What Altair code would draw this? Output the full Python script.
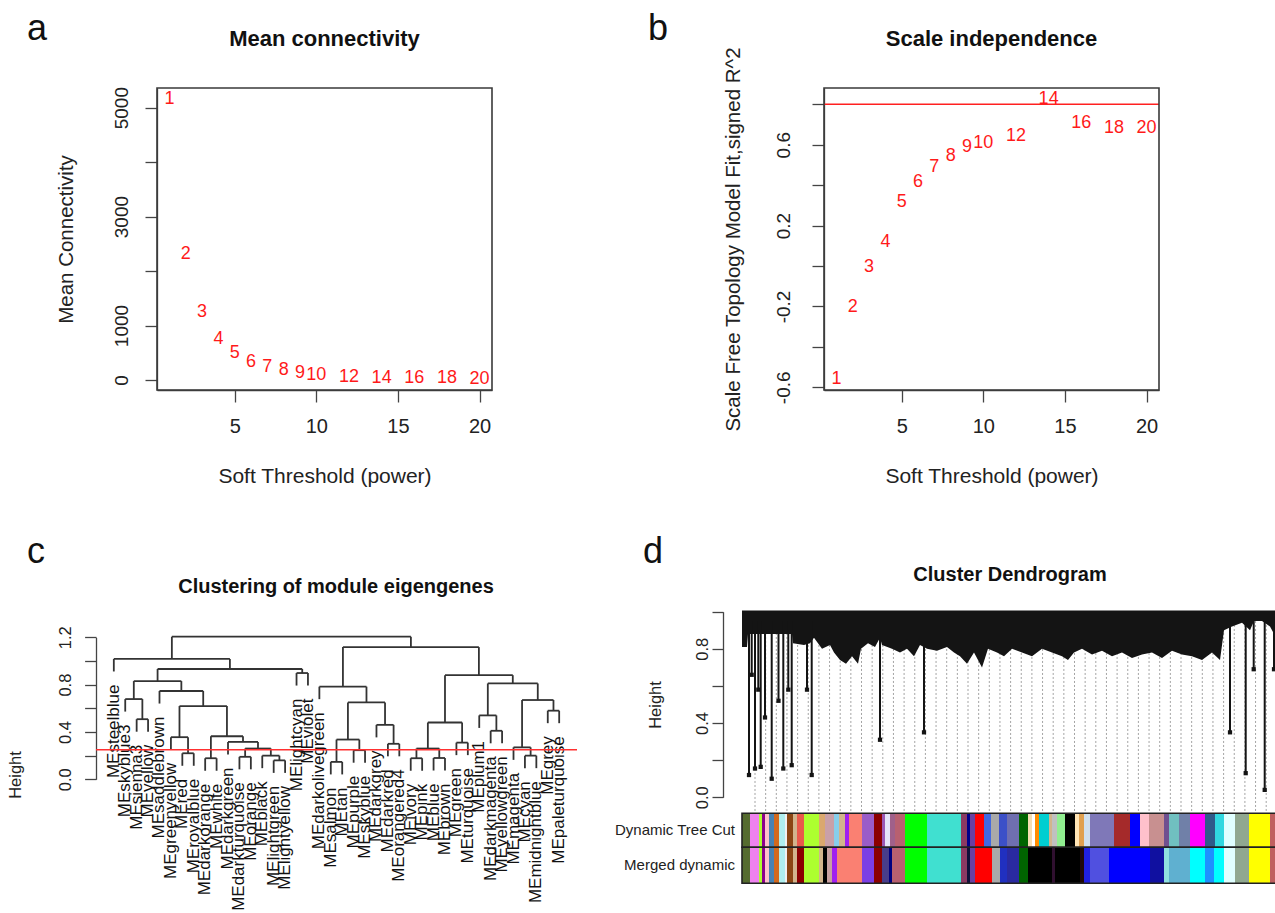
import altair as alt
import pandas as pd

W, H = 1275, 913
FONT = "Liberation Sans"

# ---------------- data: panels a / b ----------------
powers = [1, 2, 3, 4, 5, 6, 7, 8, 9, 10, 12, 14, 16, 18, 20]
mean_connectivity = [5156, 2313, 1254, 753, 502, 337, 245, 184, 135, 92, 61, 43, 35, 28, 22]
scale_free_r2 = [-0.558, -0.204, -0.003, 0.117, 0.318, 0.414, 0.488, 0.546, 0.590,
                 0.607, 0.645, 0.825, 0.706, 0.684, 0.681]
r2_cutoff = 0.8

# ---------------- data: panel c (module eigengene tree) ----------------
me_labels = ["steelblue", "skyblue3", "sienna3", "yellow", "saddlebrown", "greenyellow", "red",
             "royalblue", "darkorange", "white", "darkgreen", "darkturquoise", "orange", "black",
             "lightgreen", "lightyellow", "lightcyan", "violet", "darkolivegreen", "salmon", "tan",
             "purple", "skyblue", "darkgrey", "darkred", "orangered4", "ivory", "pink", "blue",
             "brown", "green", "turquoise", "plum1", "darkmagenta", "yellowgreen", "magenta",
             "cyan", "midnightblue", "grey", "paleturquoise"]
# R-style merge list: negative = leaf (1-based, in plotting order), positive = earlier merge
me_merges = [(-7, -8, 0.22), (-6, 1, 0.356), (-9, -10, 0.178), (-12, -13, 0.19),
             (-15, -16, 0.16), (-14, 5, 0.20), (4, 6, 0.26), (-11, 7, 0.316), (3, 8, 0.364),
             (2, 9, 0.619), (-5, 10, 0.746), (-3, -4, 0.508), (-2, 12, 0.678), (13, 11, 0.83),
             (-17, -18, 0.898), (14, 15, 0.932), (-1, 16, 1.017),
             (-20, -21, 0.147), (-22, -23, 0.246), (18, 19, 0.336), (-25, -26, 0.30),
             (-24, 21, 0.46), (20, 22, 0.65), (-19, 23, 0.783), (-27, -28, 0.178),
             (-29, -30, 0.18), (25, 26, 0.26), (-31, -32, 0.31), (27, 28, 0.48),
             (-34, -35, 0.41), (-33, 30, 0.54), (-37, -38, 0.20), (-36, 32, 0.27),
             (-39, -40, 0.58), (33, 34, 0.67), (31, 35, 0.81), (29, 36, 0.88), (24, 37, 1.117),
             (17, 38, 1.205)]
me_cut_height = 0.25

# ---------------- data: panel d (gene dendrogram + colour rows) ----------------
profile_x = [0, 5, 6, 44, 46, 50, 51, 62, 68, 72, 80, 88, 92, 98, 104, 110, 116, 119, 126, 133,
             138, 140, 150, 158, 165, 172, 178, 185, 195, 205, 212, 218, 225, 232, 240, 246, 255,
             262, 270, 280, 290, 300, 310, 320, 326, 332, 340, 350, 360, 370, 380, 390, 400, 410,
             420, 430, 440, 450, 460, 470, 478, 482, 490, 500, 508, 512, 520, 528, 535]
profile_h = [0.81, 0.81, 0.88, 0.88, 0.88, 0.88, 0.83, 0.82, 0.83, 0.86, 0.80, 0.82, 0.78, 0.74,
             0.72, 0.76, 0.72, 0.80, 0.83, 0.81, 0.86, 0.82, 0.80, 0.78, 0.80, 0.76, 0.82, 0.80,
             0.79, 0.81, 0.78, 0.76, 0.72, 0.78, 0.70, 0.80, 0.78, 0.76, 0.80, 0.78, 0.76, 0.80,
             0.78, 0.76, 0.74, 0.78, 0.80, 0.77, 0.79, 0.76, 0.78, 0.75, 0.77, 0.78, 0.75, 0.79,
             0.77, 0.76, 0.74, 0.78, 0.74, 0.90, 0.92, 0.94, 0.90, 0.95, 0.95, 0.92, 0.85]
strand_x = [7, 9.7, 13, 16.3, 18.7, 23, 29.7, 36.5, 41.3, 46.3, 49.7, 65, 69.7, 138, 182,
            488, 503.7, 511.7, 522.7, 532]
strand_bottom = [0.12, 0.66, 0.155, 0.58, 0.164, 0.43, 0.10, 0.52, 0.155, 0.58, 0.173, 0.58,
                 0.12, 0.31, 0.35, 0.35, 0.13, 0.69, 0.04, 0.69]
guide_first, guide_step, guide_count = 13, 10.65, 50

dynamic_cut_breaks = [0, 8, 17, 20, 23, 27, 32, 37, 43, 45, 51, 55, 62, 77, 83, 92, 97, 103, 107,
                      120, 132, 140, 143, 148, 153, 163, 185, 219, 225, 228, 233, 242, 249, 257,
                      265, 277, 286, 290, 293, 297, 307, 310, 315, 323, 333, 337, 342, 348, 372,
                      388, 398, 407, 422, 427, 437, 448, 463, 473, 482, 493, 507, 528, 535]
dynamic_cut_colors = ["#556B2F", "#EE82EE", "#ADFF2F", "#8B008B", "#FFC0CB", "#4682B4", "#D2691E",
                      "#AFEEEE", "#F0F0F0", "#8B4513", "#D2B48C", "#E9594B", "#ADFF2F", "#DAA86E",
                      "#C9A0A8", "#87CEEB", "#D2B48C", "#A020F0", "#FA8072", "#9A5CC8", "#8B0000",
                      "#9B59B6", "#E6E6FA", "#A0608A", "#B86070", "#00FF00", "#40E0D0", "#8B3A62",
                      "#00008B", "#6A3FA0", "#FF0000", "#4169E1", "#A9A9A9", "#3C50C8", "#6F6FB0",
                      "#006400", "#F5DEB3", "#FFFFFF", "#FF8C00", "#00CED1", "#D2B48C", "#C0C0C0",
                      "#90EE90", "#000000", "#FFE4B5", "#E0A050", "#D0E0F0", "#7F78B8", "#A52A2A",
                      "#0000FF", "#FFC0CB", "#C89090", "#705090", "#70C0C0", "#7080A8", "#FF00FF",
                      "#2F5A8A", "#30D8E0", "#E0FFFF", "#90A890", "#FFFF00", "#C06060"]
merged_breaks = [0, 8, 17, 20, 23, 27, 32, 37, 43, 45, 51, 55, 62, 77, 81, 85, 90, 95, 120, 132,
                 140, 147, 150, 163, 185, 219, 225, 228, 233, 250, 258, 265, 277, 286, 310, 313,
                 338, 342, 348, 367, 408, 422, 427, 448, 463, 472, 482, 493, 507, 528, 535]
merged_colors = ["#556B2F", "#EE82EE", "#ADFF2F", "#8B008B", "#FFC0CB", "#4682B4", "#D2691E",
                 "#AFEEEE", "#F0F0F0", "#8B4513", "#D2B48C", "#8B0000", "#ADFF2F", "#D2B48C",
                 "#000000", "#C8A0A0", "#A020F0", "#FA8072", "#7B3FE4", "#8B0000", "#483D8B",
                 "#000080", "#B86070", "#00FF00", "#40E0D0", "#8B3A62", "#10103A", "#6A3FA0",
                 "#FF0000", "#A9A9A9", "#2030C0", "#2A2AA0", "#006400", "#000000", "#301030",
                 "#000000", "#200808", "#2020E0", "#5050E0", "#0000FF", "#1010A0", "#90E0E0",
                 "#5FB0D0", "#00FFFF", "#1E90FF", "#00FFFF", "#E0FFFF", "#90A890", "#FFFF00",
                 "#C06060"]
row_labels = ["Dynamic Tree Cut", "Merged dynamic"]


# ---------------- helpers ----------------
def ext(v):
    lo, hi = min(v), max(v)
    p = 0.04 * (hi - lo)
    return [lo - p, hi + p]


def axis(values, orient, offset, title, **kw):
    d = dict(values=values, orient=orient, offset=offset, title=title, grid=False, ticks=True,
             labelFont=FONT, titleFont=FONT, labelColor="#222222", titleColor="#222222",
             tickColor="#444444", domainColor="#444444", tickWidth=1.3, domainWidth=1.3,
             labelFlush=False, labelOverlap=False, titleFontWeight="normal",
             titleAlign="center", titleBaseline="alphabetic")
    d.update(kw)
    return alt.Axis(**d)


def soft_threshold_panel(values, left, right, ylab, yticks, ylabel_expr, yfmt, lpad, cutoff=None):
    xd, yd = ext(powers), ext(values)
    sx = alt.Scale(domain=xd, range=[left, right], nice=False, zero=False)
    sy = alt.Scale(domain=yd, range=[390, 88], nice=False, zero=False)
    ax_x = axis([5, 10, 15, 20], "bottom", 390 - H, "Soft Threshold (power)", domain=True,
                tickSize=12, labelPadding=14, labelFontSize=20, titleFontSize=21, labelAngle=0,
                labelAlign="center", labelBaseline="top", titleX=(left + right) / 2,
                titleY=92, titleAngle=0)
    ax_y = axis(yticks, "left", -left, ylab, domain=True, tickSize=12, labelPadding=lpad,
                labelFontSize=19, titleFontSize=20.5, labelAngle=270, labelAlign="center",
                labelBaseline="alphabetic", format=yfmt, labelExpr=ylabel_expr,
                titleX=-85, titleY=239, titleAngle=270)
    df = pd.DataFrame({"x": powers, "y": values, "lab": [str(p) for p in powers]})
    box = pd.DataFrame({"x": [xd[0]], "x2": [xd[1]], "y": [yd[0]], "y2": [yd[1]]})
    layers = []
    if cutoff is not None:
        cut = pd.DataFrame({"x": [xd[0]], "x2": [xd[1]], "y": [cutoff]})
        layers.append(alt.Chart(cut).mark_rule(color="#FF2020", strokeWidth=1.3).encode(
            x=alt.X("x:Q", scale=sx, axis=ax_x), x2="x2:Q",
            y=alt.Y("y:Q", scale=sy, axis=ax_y)))
    layers.append(alt.Chart(box).mark_rect(fillOpacity=0, stroke="#3a3a3a", strokeWidth=1.6).encode(
        x=alt.X("x:Q", scale=sx, axis=ax_x), x2="x2:Q",
        y=alt.Y("y:Q", scale=sy, axis=ax_y), y2="y2:Q"))
    layers.append(alt.Chart(df).mark_text(color="#FF1A1A", fontSize=18, font=FONT,
                                          align="center", baseline="middle").encode(
        x=alt.X("x:Q", scale=sx, axis=ax_x), y=alt.Y("y:Q", scale=sy, axis=ax_y), text="lab:N"))
    return alt.layer(*layers)


# ---------------- panel a ----------------
panel_a = soft_threshold_panel(
    mean_connectivity, 157, 492, "Mean Connectivity", [0, 1000, 2000, 3000, 4000, 5000],
    "(datum.value == 2000 || datum.value == 4000) ? '' : datum.label", "d", 18)

# ---------------- panel b ----------------
panel_b = soft_threshold_panel(
    scale_free_r2, 824, 1159, "Scale Free Topology Model Fit,signed R^2",
    [-0.6, -0.4, -0.2, 0, 0.2, 0.4, 0.6, 0.8],
    "(abs(round(datum.value*10)) % 4 == 2) ? ((datum.value < 0 ? '-' : '') + format(abs(datum.value), '.1f')) : ''",
    ".1f", 23, cutoff=r2_cutoff)

# ---------------- panel c ----------------
heights = [m[2] for m in me_merges]
hang = 0.1 * (max(heights) - min(heights))
node_x, node_h, leaf_bottom, segs = {}, {}, {}, []
for k, (a, b, h) in enumerate(me_merges, start=1):
    xs = []
    for c in (a, b):
        if c < 0:
            i = -c - 1
            cx, ch = float(i), h - hang
            leaf_bottom[i] = ch
        else:
            cx, ch = node_x[c], node_h[c]
        segs.append({"x": cx, "x2": cx, "y": ch, "y2": h})
        xs.append(cx)
    segs.append({"x": xs[0], "x2": xs[1], "y": h, "y2": h})
    node_x[k], node_h[k] = (xs[0] + xs[1]) / 2, h
seg_df = pd.DataFrame(segs)
n = len(me_labels)
xd_c = [-0.04 * (n - 1), (n - 1) * 1.04]
lab_df = pd.DataFrame({"x": list(range(n)),
                       "y": [leaf_bottom[i] - 0.11 for i in range(n)],
                       "lab": ["ME" + s for s in me_labels]})
sx_c = alt.Scale(domain=xd_c, range=[96, 577], nice=False, zero=False)
sy_c = alt.Scale(domain=[0, 1.2], range=[779.3, 637.3], nice=False, zero=False)
ax_yc = axis([0, 0.2, 0.4, 0.6, 0.8, 1.0, 1.2], "left", -96, "Height", domain=True,
             tickSize=11.4, labelPadding=14.6, labelFontSize=16.5, titleFontSize=16.5,
             labelAngle=270, labelAlign="center", labelBaseline="alphabetic",
             labelExpr="(round(datum.value*10) % 4 == 0) ? format(datum.value, '.1f') : ''",
             titleX=-76, titleY=774.5, titleAngle=270)
cut_c = pd.DataFrame({"x": [xd_c[0]], "x2": [xd_c[1]], "y": [me_cut_height]})
panel_c = alt.layer(
    alt.Chart(seg_df).mark_rule(color="#333333", strokeWidth=1.8).encode(
        x=alt.X("x:Q", scale=sx_c, axis=None), x2="x2:Q",
        y=alt.Y("y:Q", scale=sy_c, axis=ax_yc), y2="y2:Q"),
    alt.Chart(lab_df).mark_text(font=FONT, fontSize=17, angle=270, align="right",
                                baseline="middle", color="#111111").encode(
        x=alt.X("x:Q", scale=sx_c, axis=None), y=alt.Y("y:Q", scale=sy_c, axis=ax_yc),
        text="lab:N"),
    alt.Chart(cut_c).mark_rule(color="#FF3030", strokeWidth=1.5).encode(
        x=alt.X("x:Q", scale=sx_c, axis=None), x2="x2:Q",
        y=alt.Y("y:Q", scale=sy_c, axis=ax_yc)),
)

# ---------------- panel d ----------------
row_top = [-16 / 185.6, -50 / 185.6]
row_bot = [-50 / 185.6, -86 / 185.6]
sx_d = alt.Scale(domain=[0, 535], range=[742, 1277], nice=False, zero=False)
sy_d = alt.Scale(domain=[0, 1], range=[797.3, 611.7], nice=False, zero=False)
ax_yd = axis([0, 0.2, 0.4, 0.6, 0.8, 1.0], "left", -723, "Height", domain=True,
             tickSize=11, labelPadding=5, labelFontSize=16.5, titleFontSize=16.5,
             labelAngle=270, labelAlign="center", labelBaseline="alphabetic",
             labelExpr="(round(datum.value*10) % 4 == 0) ? format(datum.value, '.1f') : ''",
             titleX=-63, titleY=704.5, titleAngle=270)

guide_df = pd.DataFrame({"x": [round(guide_first + guide_step * k, 2) for k in range(guide_count)],
                         "y": 0.95, "y2": row_top[0]})
mass_df = pd.DataFrame({"x": profile_x, "y": profile_h, "y2": 1.0})
strand_df = pd.DataFrame({"x": strand_x, "y": 0.95, "y2": strand_bottom})
top_df = pd.DataFrame({"x": [0], "x2": [535], "y": [1.0]})
rows = []
for r, (br, cols) in enumerate([(dynamic_cut_breaks, dynamic_cut_colors),
                                (merged_breaks, merged_colors)]):
    for s, e, c in zip(br[:-1], br[1:], cols):
        rows.append({"x": s, "x2": e, "y": row_top[r], "y2": row_bot[r], "col": c})
rows_df = pd.DataFrame(rows)
frame_df = pd.DataFrame({"x": [0, 0], "x2": [535, 535], "y": row_top, "y2": row_bot})
rowlab_df = pd.DataFrame({"x": [-7, -7], "y": [(row_top[i] + row_bot[i]) / 2 for i in range(2)],
                          "lab": row_labels})

X = lambda: alt.X("x:Q", scale=sx_d, axis=None)
Y = lambda: alt.Y("y:Q", scale=sy_d, axis=ax_yd)
panel_d = alt.layer(
    alt.Chart(guide_df).mark_rule(color="#9a9a9a", strokeDash=[2, 2], strokeWidth=0.9).encode(
        x=X(), y=Y(), y2="y2:Q"),
    alt.Chart(mass_df).mark_area(color="#141414", opacity=1).encode(x=X(), y=Y(), y2="y2:Q"),
    alt.Chart(top_df).mark_rule(color="#141414", strokeWidth=2.5).encode(x=X(), x2="x2:Q", y=Y()),
    alt.Chart(strand_df).mark_rule(color="#141414", strokeWidth=2).encode(x=X(), y=Y(), y2="y2:Q"),
    alt.Chart(strand_df).mark_square(color="#141414", size=18, opacity=1).encode(
        x=X(), y=alt.Y("y2:Q", scale=sy_d, axis=ax_yd)),
    alt.Chart(rows_df).mark_rect().encode(x=X(), x2="x2:Q", y=Y(), y2="y2:Q",
                                          color=alt.Color("col:N", scale=None)),
    alt.Chart(frame_df).mark_rect(fillOpacity=0, stroke="#222222", strokeWidth=1.6).encode(
        x=X(), x2="x2:Q", y=Y(), y2="y2:Q"),
    alt.Chart(rowlab_df).mark_text(font=FONT, fontSize=15, align="right", baseline="middle",
                                   color="#222222").encode(x=X(), y=Y(), text="lab:N"),
)


# ---------------- panel letters and titles ----------------
def note(txt, px, py, size, weight, align):
    return alt.Chart(pd.DataFrame({"t": [txt]})).mark_text(
        font=FONT, fontSize=size, fontWeight=weight, align=align, baseline="alphabetic",
        color="#111111").encode(x=alt.value(px), y=alt.value(py), text="t:N")


notes = [
    note("a", 27, 40, 36, "normal", "left"),
    note("b", 648, 40, 36, "normal", "left"),
    note("c", 27, 563, 36, "normal", "left"),
    note("d", 643, 563, 36, "normal", "left"),
    note("Mean connectivity", 324.5, 46, 22, "bold", "center"),
    note("Scale independence", 991.5, 46, 22, "bold", "center"),
    note("Clustering of module eigengenes", 336, 593, 20, "bold", "center"),
    note("Cluster Dendrogram", 1010, 581, 20, "bold", "center"),
]

chart = alt.layer(panel_a, panel_b, panel_c, panel_d, *notes).resolve_scale(
    x="independent", y="independent"
).properties(
    width=W, height=H, padding=0, autosize=alt.AutoSizeParams(type="none")
).configure_view(strokeWidth=0)

chart.save("out.html", embed_options={"renderer": "svg", "actions": False})
